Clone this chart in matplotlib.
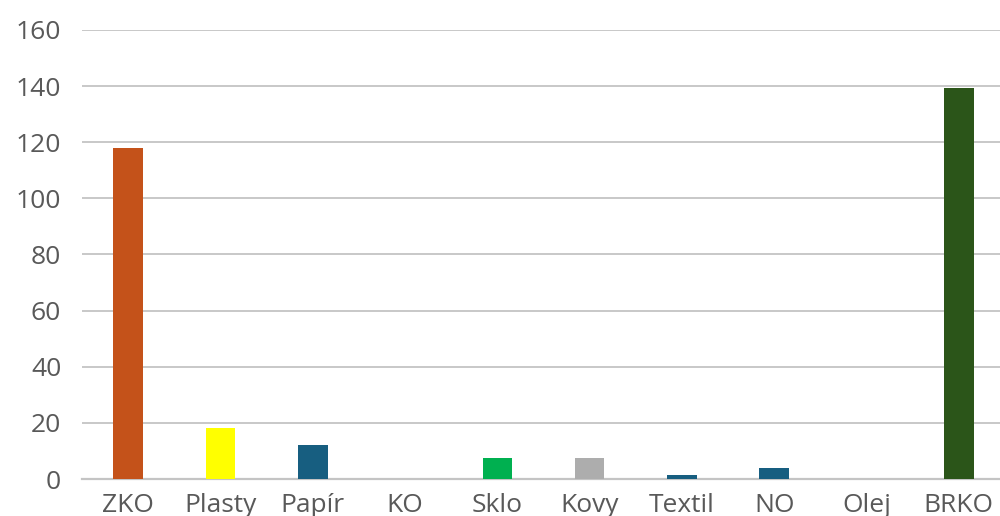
import numpy as np
import matplotlib.pyplot as plt

# values
categories = ["ZKO", "Plasty", "Papír", "KO", "Sklo", "Kovy", "Textil", "NO", "Olej", "BRKO"]
values = [118.0, 18.3, 12.1, 0, 7.5, 7.5, 1.5, 3.9, 0, 139.3]
colors = ["#C4521A", "#FFFF00", "#175E80", "#175E80", "#00B050", "#ADADAD",
          "#175E80", "#175E80", "#175E80", "#2B5519"]
yticks = [0, 20, 40, 60, 80, 100, 120, 140, 160]

plt.rcParams['font.family'] = ['Open Sans', 'DejaVu Sans']

fig = plt.figure(figsize=(10, 5.16), dpi=100)
ax = fig.add_axes([0.082, 0.0717, 0.923, 0.8702])

x = np.arange(len(categories))
ax.bar(x, values, width=0.32, color=colors, zorder=3)

ax.set_xlim(-0.5, len(categories) - 0.5)
ax.set_ylim(0, 160)
ax.set_yticks(yticks)
ax.set_xticks(x)
ax.set_xticklabels(categories)
ax.yaxis.grid(True, color="#c4c4c4", linewidth=1.3, zorder=0)
ax.set_axisbelow(True)

for s in ["top", "right", "left"]:
    ax.spines[s].set_visible(False)
ax.spines["bottom"].set_color("#c4c4c4")
ax.spines["bottom"].set_linewidth(1.6)

ax.tick_params(axis="both", length=0, labelsize=19, labelcolor="#595959")
ax.tick_params(axis="y", pad=15)
ax.tick_params(axis="x", pad=10)

fig.savefig("out.png", dpi=100)
